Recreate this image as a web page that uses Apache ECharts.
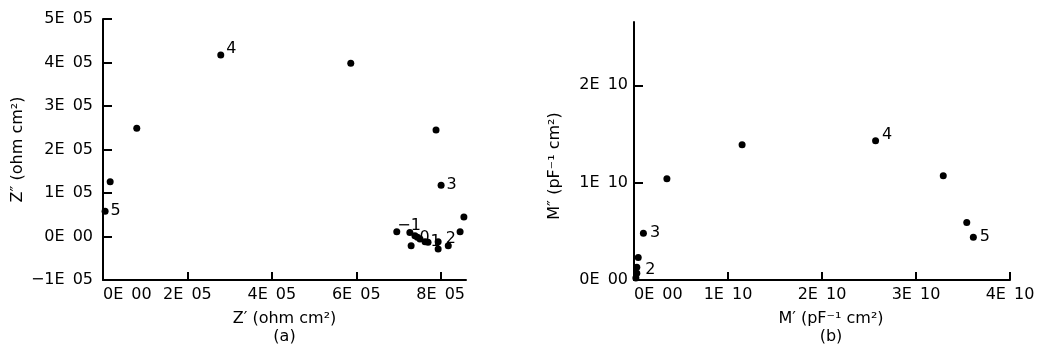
<!DOCTYPE html>
<html>
<head>
<meta charset="utf-8">
<script src="https://cdn.jsdelivr.net/npm/echarts@6.0.0/dist/echarts.min.js"></script>
<style>
  html, body { margin: 0; padding: 0; background: #fff; }
  #chart { width: 1041px; height: 351px; }
</style>
</head>
<body>
<div id="chart"></div>
<script>
// (a) impedance plane, Z' / Z'' in ohm cm2
const zReal = [0.05e5, 0.17e5, 0.80e5, 2.79e5, 5.87e5, 7.89e5, 8.01e5, 8.55e5, 8.46e5, 8.18e5,
  7.94e5, 7.94e5, 7.63e5, 7.70e5, 7.51e5, 7.45e5, 7.39e5, 7.27e5, 7.30e5, 6.96e5];
const zImag = [0.58e5, 1.26e5, 2.49e5, 4.17e5, 3.98e5, 2.45e5, 1.18e5, 0.45e5, 0.11e5, -0.21e5,
  -0.29e5, -0.12e5, -0.12e5, -0.13e5, -0.06e5, -0.02e5, 0.02e5, 0.09e5, -0.21e5, 0.11e5];
const zTags = ["5", "", "", "4", "", "", "3", "", "", "", "", "2", "1", "", "", "", "0", "", "", "-1"];

// (b) modulus plane, M' / M'' in pF-1 cm2
const mReal = [0.02e10, 0.03e10, 0.03e10, 0.045e10, 0.10e10, 0.35e10, 1.15e10, 2.57e10, 3.29e10, 3.54e10, 3.61e10];
const mImag = [0.02e10, 0.07e10, 0.13e10, 0.23e10, 0.48e10, 1.04e10, 1.39e10, 1.43e10, 1.07e10, 0.59e10, 0.44e10];
const mTags = ["", "2", "", "", "3", "", "", "4", "", "", "5"];

// tick labels
const zXTicks = [0, 2e5, 4e5, 6e5, 8e5];
const zYTicks = [-1e5, 0, 1e5, 2e5, 3e5, 4e5, 5e5];
const mXTicks = [0, 1e10, 2e10, 3e10, 4e10];
const mYTicks = [0, 1e10, 2e10];

const FONT = "DejaVu Sans";

// label nudges (px) for the crowded points
const tagOffset = {
  "4": [0, -6],
  "-1": [-5, -6],
  "0": [-1, 2],
  "2": [2, -3]
};

function sciLabel(v) {
  if (v === 0) return "0E\u2002" + "00";
  const e = Math.floor(Math.log10(Math.abs(v)) + 1e-9);
  const m = Math.round(v / Math.pow(10, e));
  return (m < 0 ? "\u2212" + (-m) : m) + "E\u2002" + String(e).padStart(2, "0");
}

function points(xs, ys, tags) {
  return xs.map((x, i) => {
    const t = tags[i];
    const item = { value: [x, ys[i]], name: t };
    if (t) {
      item.label = {
        show: true,
        color: "#000",
        formatter: t.replace("-", "\u2212"),
        offset: tagOffset[t] || [0, 0]
      };
    }
    return item;
  });
}

const axisText = { color: "#000", fontFamily: FONT, fontSize: 16 };
const lineStyle = { color: "#000", width: 2 };

function valueAxis(extra) {
  return Object.assign({
    type: "value",
    splitLine: { show: false },
    axisLine: { show: true, onZero: false, lineStyle: lineStyle },
    axisTick: { show: true, inside: true, length: 9, lineStyle: lineStyle },
    axisLabel: Object.assign({ formatter: sciLabel }, axisText),
    nameTextStyle: { color: "#000", fontFamily: FONT, fontSize: 16, lineHeight: 18 }
  }, extra);
}

const chart = echarts.init(document.getElementById("chart"), null, { renderer: "canvas" });

chart.setOption({
  animation: false,
  backgroundColor: "#fff",
  grid: [
    { left: 103, top: 19, width: 363, height: 264 },
    { left: 634, top: 22, width: 376, height: 261 }
  ],
  xAxis: [
    valueAxis({
      gridIndex: 0, min: 0, max: 8.6e5,
      name: "Z\u2032 (ohm cm\u00b2)\n(a)", nameLocation: "middle", nameGap: 30,
      axisTick: { show: true, inside: true, length: 8, lineStyle: lineStyle, customValues: zXTicks },
      axisLabel: Object.assign({ formatter: sciLabel, customValues: zXTicks, margin: 7, alignMinLabel: "left" }, axisText)
    }),
    valueAxis({
      gridIndex: 1, min: 0, max: 4e10,
      name: "M\u2032 (pF\u207b\u00b9 cm\u00b2)\n(b)", nameLocation: "middle", nameGap: 30,
      nameTextStyle: { color: "#000", fontFamily: FONT, fontSize: 16, lineHeight: 18, padding: [0, 0, 0, 18] },
      axisTick: { show: true, inside: true, length: 8, lineStyle: lineStyle, customValues: mXTicks },
      axisLabel: Object.assign({ formatter: sciLabel, customValues: mXTicks, margin: 7, alignMinLabel: "left" }, axisText)
    })
  ],
  yAxis: [
    valueAxis({
      gridIndex: 0, min: -1e5, max: 5e5,
      name: "Z\u2033 (ohm cm\u00b2)", nameLocation: "middle", nameGap: 76,
      axisTick: { show: true, inside: true, length: 9, lineStyle: lineStyle, customValues: zYTicks },
      axisLabel: Object.assign({ formatter: sciLabel, customValues: zYTicks, margin: 10 }, axisText)
    }),
    valueAxis({
      gridIndex: 1, min: 0, max: 2.65e10,
      name: "M\u2033 (pF\u207b\u00b9 cm\u00b2)", nameLocation: "middle", nameGap: 71,
      nameTextStyle: { color: "#000", fontFamily: FONT, fontSize: 16, padding: [0, 30, 0, 0] },
      axisTick: { show: true, inside: true, length: 9, lineStyle: lineStyle, customValues: mYTicks },
      axisLabel: Object.assign({ formatter: sciLabel, customValues: mYTicks, margin: 6 }, axisText)
    })
  ],
  series: [
    {
      type: "scatter", xAxisIndex: 0, yAxisIndex: 0,
      symbolSize: 7, itemStyle: { color: "#000", opacity: 1 },
      label: { show: false, position: "right", distance: 2, color: "#000", fontFamily: FONT, fontSize: 16 },
      data: points(zReal, zImag, zTags)
    },
    {
      type: "scatter", xAxisIndex: 1, yAxisIndex: 1,
      symbolSize: 7, itemStyle: { color: "#000", opacity: 1 },
      label: { show: false, position: "right", distance: 3, color: "#000", fontFamily: FONT, fontSize: 16 },
      data: points(mReal, mImag, mTags)
    }
  ]
});
</script>
</body>
</html>
